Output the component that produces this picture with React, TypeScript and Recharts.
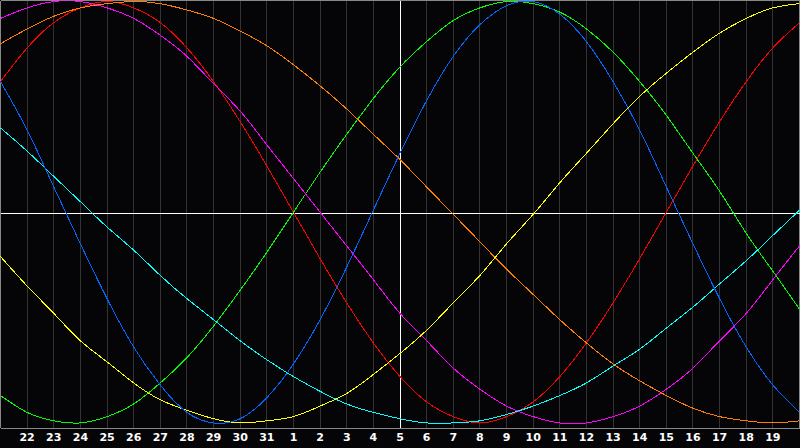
import React from 'react';
import { LineChart, Line, XAxis, YAxis, CartesianGrid, ReferenceLine } from 'recharts';

// day labels along the bottom (21 .. 31, 1 .. 20)
const days = [
  '21', '22', '23', '24', '25', '26', '27', '28', '29', '30', '31',
  '1', '2', '3', '4', '5', '6', '7', '8', '9', '10',
  '11', '12', '13', '14', '15', '16', '17', '18', '19', '20'
];

// curve values (percent of full swing)
const red = [62, 78, 90, 97, 100, 97, 90, 78, 62, 43, 22, 0, -22, -43, -62, -78, -90, -97, -100, -97, -90, -78, -62, -43, -22, 0, 22, 43, 62, 78, 90];
const green = [-87, -95, -99, -100, -97, -91, -81, -69, -54, -37, -19, 0, 19, 37, 54, 69, 81, 91, 97, 100, 99, 95, 87, 76, 62, 46, 28, 10, -10, -28, -46];
const blue = [62, 39, 12, -15, -41, -64, -82, -95, -100, -98, -88, -72, -51, -26, 1, 28, 53, 74, 89, 98, 100, 94, 81, 62, 39, 12, -15, -41, -64, -82, -95];
const orange = [80, 87, 93, 97, 99, 100, 99, 96, 92, 86, 79, 70, 60, 49, 37, 25, 12, -1, -14, -27, -39, -51, -62, -72, -80, -87, -93, -97, -99, -100, -99];
const magenta = [92, 97, 100, 100, 97, 92, 84, 74, 61, 48, 32, 16, 0, -16, -32, -48, -61, -74, -84, -92, -97, -100, -100, -97, -92, -84, -74, -61, -48, -32, -16];
const cyan = [40, 29, 17, 5, -7, -18, -30, -41, -51, -61, -70, -78, -85, -91, -95, -98, -100, -100, -99, -96, -92, -87, -81, -73, -65, -55, -45, -34, -23, -11, 1];
const yellow = [-21, -35, -48, -61, -71, -81, -89, -94, -98, -100, -99, -97, -92, -86, -77, -67, -56, -43, -30, -15, -1, 14, 28, 42, 55, 66, 76, 85, 92, 97, 99];

const series = [
  { key: 'red', values: red, color: '#ff0000' },
  { key: 'green', values: green, color: '#00ff00' },
  { key: 'orange', values: orange, color: '#ff8000' },
  { key: 'magenta', values: magenta, color: '#ff00ff' },
  { key: 'cyan', values: cyan, color: '#00ffff' },
  { key: 'yellow', values: yellow, color: '#ffff00' },
  { key: 'blue', values: blue, color: '#0066ff' }
];

const data = days.map((day, i) => {
  const row: Record<string, string | number> = { day };
  series.forEach(s => {
    row[s.key] = s.values[i];
  });
  return row;
});

const DayTick = (props: any) => {
  const { x, y, payload, index } = props;
  if (index === 0 || index === days.length - 1) return null;
  return (
    <text
      x={x}
      y={y}
      dy={5}
      textAnchor="middle"
      fill="#ffffff"
      fontFamily="DejaVu Sans, sans-serif"
      fontWeight="bold"
      fontSize={11}
    >
      {payload.value}
    </text>
  );
};

export default function App() {
  return (
    <div style={{ position: 'absolute', left: 0, top: 0, width: 800, height: 448, background: '#050508' }}>
      <LineChart
        width={800}
        height={448}
        data={data}
        margin={{ top: 0.5, right: 0.5, left: 0.5, bottom: 0 }}
      >
        <CartesianGrid horizontal={false} stroke="#333333" shapeRendering="crispEdges" />
        <XAxis
          dataKey="day"
          height={20}
          interval={0}
          tickLine={false}
          axisLine={{ stroke: '#888888', shapeRendering: 'crispEdges' }}
          tick={<DayTick />}
        />
        <YAxis hide domain={[-102.4, 100.5]} allowDataOverflow />
        <ReferenceLine x="21" stroke="#888888" shapeRendering="crispEdges" />
        <ReferenceLine x="20" stroke="#888888" shapeRendering="crispEdges" />
        <ReferenceLine y={100.5} stroke="#888888" shapeRendering="crispEdges" />
        <ReferenceLine x="5" stroke="#ffffff" shapeRendering="crispEdges" />
        <ReferenceLine y={-0.8} stroke="#ffffff" shapeRendering="crispEdges" />
        {series.map(s => (
          <Line
            key={s.key}
            type="natural"
            dataKey={s.key}
            stroke={s.color}
            strokeWidth={1}
            dot={false}
            shapeRendering="crispEdges"
            isAnimationActive={false}
          />
        ))}
      </LineChart>
    </div>
  );
}
